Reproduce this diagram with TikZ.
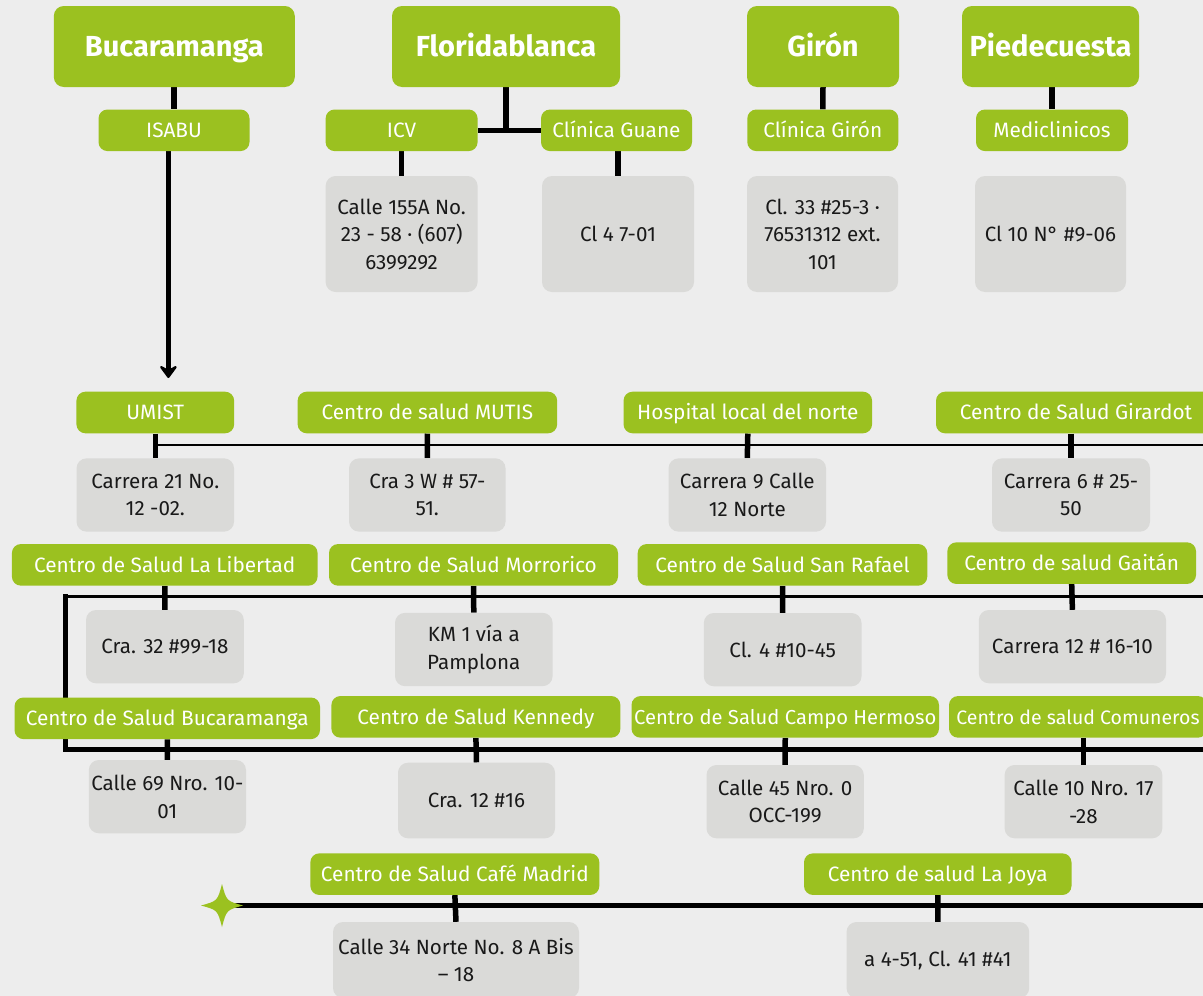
\documentclass[tikz,border=0pt]{standalone}
\usepackage{fontspec}
\setmainfont{Fira Sans}
\usepackage{tikz}
\usetikzlibrary{arrows.meta}

\definecolor{grn}{RGB}{155,193,32}
\definecolor{boxgray}{RGB}{218,218,216}
\definecolor{paper}{RGB}{237,237,237}
\pgfdeclarelayer{back}
\pgfsetlayers{back,main}

\begin{document}
\begin{tikzpicture}[x=1pt,y=-1pt,
  city/.style={fill=grn, text=white, rounded corners=10pt, inner sep=0pt,
    minimum height=81pt, text height=20pt, text depth=0pt,
    font=\bfseries\fontsize{29}{34}\selectfont},
  clinic/.style={fill=grn, text=white, rounded corners=9pt, inner sep=0pt,
    minimum height=41.6pt, text height=14.3pt, text depth=0pt,
    font=\fontsize{20.8}{25}\selectfont},
  addr/.style={fill=boxgray, text=black!90, rounded corners=10pt, inner sep=0pt,
    align=center, minimum height=73.3pt, font=\fontsize{20.6}{27.5}\selectfont},
  link/.style={line width=5.5pt},
  bus/.style={line width=2.8pt, line cap=rect},
  mainbus/.style={line width=4.8pt, line cap=rect}]

\begin{pgfonlayer}{back}
\fill[paper] (0,0) rectangle (1203,996);
\end{pgfonlayer}
\useasboundingbox (0,0) rectangle (1203,996);

%% cities
\node[city, minimum width=241pt] (buc) at (174.3,46.5) {Bucaramanga};
\node[city, minimum width=228pt] (flo) at (506,46.5) {Floridablanca};
\node[city, minimum width=152pt] (gir) at (823,46.5) {Girón};
\node[city, minimum width=177pt] (pie) at (1050.5,46.5) {Piedecuesta};

%% clinics
\node[clinic, minimum width=151pt] (isabu) at (174,130.3) {ISABU};
\node[clinic, minimum width=152pt] (icv) at (401.6,130.3) {ICV};
\node[clinic, minimum width=151pt] (guane) at (616.5,130.3) {Clínica Guane};
\node[clinic, minimum width=151pt] (cgiron) at (822.8,130.3) {Clínica Girón};
\node[clinic, minimum width=152pt] (medi) at (1052,130.3) {Mediclinicos};

\node[addr, minimum width=152pt, minimum height=116pt] (icvaddr) at (401.6,234) {Calle 155A No.\\23 - 58 · (607)\\6399292};
\node[addr, minimum width=152pt, minimum height=116pt] (guaneaddr) at (618,234) {Cl 4 7-01};
\node[addr, minimum width=151pt, minimum height=116pt] (gironaddr) at (822.5,234) {Cl. 33 \#25-3 ·\\76531312 ext.\\101};
\node[addr, minimum width=151pt, minimum height=116pt] (mediaddr) at (1050.5,234) {Cl 10 N° \#9-06};

%% centros de salud
\node[clinic, minimum width=157.7pt] (umist) at (155.3,412.5) {UMIST};
\node[clinic, minimum width=259.5pt] (mutis) at (427.4,412.5) {Centro de salud MUTIS};
\node[clinic, minimum width=248.5pt] (hosp) at (747.8,412.5) {Hospital local del norte};
\node[clinic, minimum width=280pt] (girardot) at (1076,412.5) {Centro de Salud Girardot};

\node[addr, minimum width=157.5pt] (umistaddr) at (155.3,495) {Carrera 21 No.\\12 -02.};
\node[addr, minimum width=156.5pt] (mutisaddr) at (427.3,495) {Cra 3 W \# 57-\\51.};
\node[addr, minimum width=157.5pt] (hospaddr) at (747.3,495) {Carrera 9 Calle\\12 Norte};
\node[addr, minimum width=158pt] (girardotaddr) at (1071,495) {Carrera 6 \# 25-\\50};

\node[clinic, minimum width=305.7pt] (libertad) at (164.75,564.85) {Centro de Salud La Libertad};
\node[clinic, minimum width=289pt] (morrorico) at (473.5,564.85) {Centro de Salud Morrorico};
\node[clinic, minimum width=289.6pt] (sanrafael) at (782.5,564.85) {Centro de Salud San Rafael};
\node[clinic, minimum width=248.7pt] (gaitan) at (1071.7,563.15) {Centro de salud Gaitán};

\node[addr, minimum width=157.8pt] (libaddr) at (164.9,646.65) {Cra. 32 \#99-18};
\node[addr, minimum width=157.6pt] (morraddr) at (473.8,649.5) {KM 1 vía a\\Pamplona};
\node[addr, minimum width=157.7pt] (sanraddr) at (782.65,649.65) {Cl. 4 \#10-45};
\node[addr, minimum width=187.2pt] (gaitanaddr) at (1072.4,646.65) {Carrera 12 \# 16-10};

\node[clinic, minimum width=305.5pt] (csbuc) at (167.25,718.3) {Centro de Salud Bucaramanga};
\node[clinic, minimum width=289pt] (kennedy) at (475.9,716.85) {Centro de Salud Kennedy};
\node[clinic, minimum width=307.5pt, font=\fontsize{20.2}{25}\selectfont] (campo) at (785.25,716.85) {Centro de Salud Campo Hermoso};
\node[clinic, minimum width=258pt, font=\fontsize{19.5}{24}\selectfont] (comuneros) at (1078,716.85) {Centro de salud Comuneros};

\node[addr, minimum width=157.2pt] (csbucaddr) at (167.4,796.65) {Calle 69 Nro. 10-\\01};
\node[addr, minimum width=157pt, minimum height=75.6pt] (kenaddr) at (476.5,800.5) {Cra. 12 \#16};
\node[addr, minimum width=157.3pt] (campoaddr) at (785.15,801.65) {Calle 45 Nro. 0\\OCC-199};
\node[addr, minimum width=157.7pt] (comaddr) at (1083.45,801.65) {Calle 10 Nro. 17\\-28};

\node[clinic, minimum width=289pt] (cafe) at (454.85,874.15) {Centro de Salud Café Madrid};
\node[clinic, minimum width=267.5pt] (joya) at (937.75,874.15) {Centro de salud La Joya};

\node[addr, minimum width=246pt, minimum height=76pt] (cafeaddr) at (456,960) {Calle 34 Norte No. 8 A Bis\\– 18};
\node[addr, minimum width=182.7pt, minimum height=76pt] (joyaaddr) at (937.85,960) {a 4-51, Cl. 41 \#41};

%% free ends
\coordinate (tipA) at (168.4,378);
\coordinate (eastA) at (1210,445);
\coordinate (cornerB) at (65.8,596.7);
\coordinate (eastB) at (1210,596.7);
\coordinate (cornerC) at (65.8,749.3);
\coordinate (eastC) at (1210,749.3);
\coordinate (star) at (222,905.5);
\coordinate (eastD) at (1210,905.5);

%%% edges
\begin{pgfonlayer}{back}
\draw[link] (buc.south -| isabu.north) -- (isabu.north);
\draw[link] (icv.east) -- (guane.west);
\draw[link] (flo.south) -- (flo.south |- icv.east);
\draw[link] (icv.south) -- (icvaddr.north);
\draw[link] (guane.south -| guaneaddr.north) -- (guaneaddr.north);
\draw[link] (gir.south) -- (cgiron.north);
\draw[link] (pie.south -| medi.north) -- (medi.north);
\draw[link, -{Stealth[round, length=15pt, width=22pt, inset=6pt]}] (isabu.south -| tipA) -- (tipA);

\draw[bus] (umist.south |- eastA) -- (eastA);
\draw[link] (umist.south) -- (umistaddr.north);
\draw[link] (mutis.south) -- (mutisaddr.north);
\draw[link] (hosp.south) -- (hospaddr.north);
\draw[link] (girardot.south -| girardotaddr.north) -- (girardotaddr.north);

\draw[bus] (cornerB) -- (eastB);
\draw[mainbus] (cornerB) -- (cornerC) -- (eastC);
\draw[link] (libertad.south) -- (libaddr.north);
\draw[link] (morrorico.south) -- (morraddr.north);
\draw[link] (sanrafael.south) -- (sanraddr.north);
\draw[link] (gaitan.south) -- (gaitanaddr.north);

\draw[link] (csbuc.south) -- (csbucaddr.north);
\draw[link] (kennedy.south) -- (kenaddr.north);
\draw[link] (campo.south) -- (campoaddr.north);
\draw[link] (comuneros.south -| comaddr.north) -- (comaddr.north);

\draw[mainbus] (star) -- (eastD);
\draw[link] (cafe.south) -- (cafeaddr.north);
\draw[link] (joya.south) -- (joyaaddr.north);
\end{pgfonlayer}

%% star
\fill[grn, shift={(star)}] (0,-21.5) .. controls (4.5,-4.5) .. (21,0) .. controls (4.5,4.5) .. (0,21.5)
  .. controls (-4.5,4.5) .. (-21,0) .. controls (-4.5,-4.5) .. cycle;

\end{tikzpicture}
\end{document}
